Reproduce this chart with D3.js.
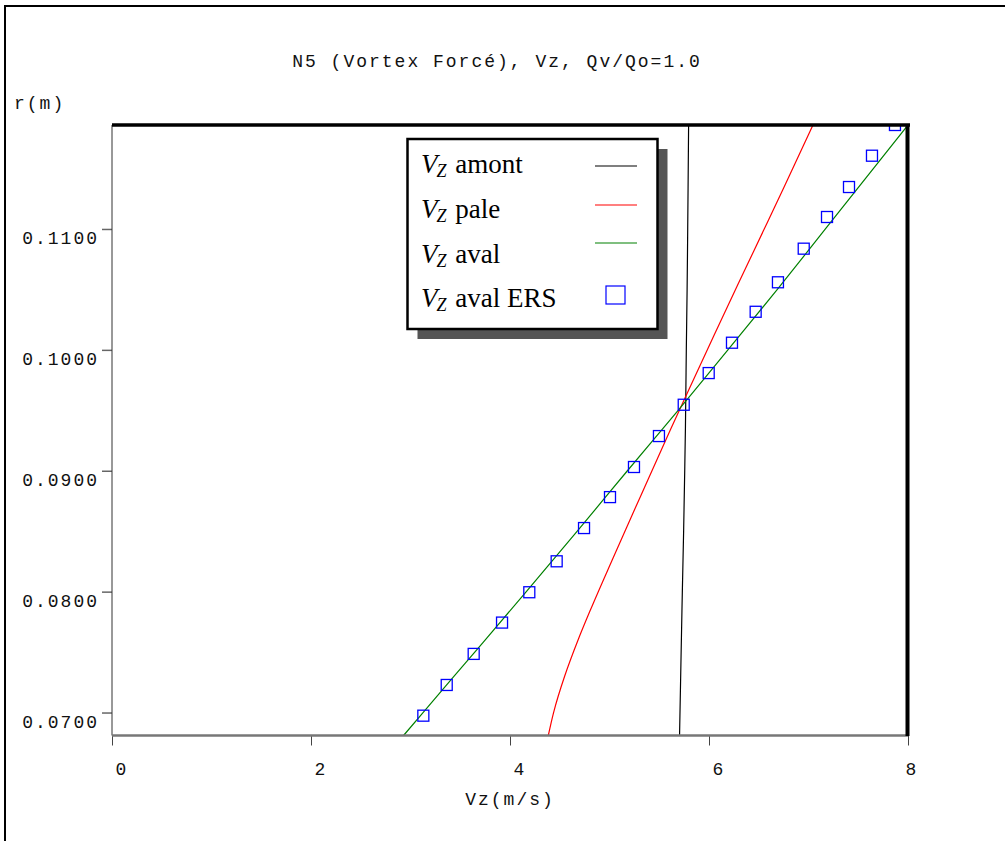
<!DOCTYPE html>
<html>
<head>
<meta charset="utf-8">
<script src="https://cdn.jsdelivr.net/npm/d3@7/dist/d3.min.js"></script>
<style>
  html, body { margin: 0; padding: 0; background: #fff; }
  svg { display: block; }
  .mono { font-family: "Liberation Mono", "DejaVu Sans Mono", monospace; font-size: 18px; letter-spacing: 2px; fill: #111; }
  .leg { font-family: "Liberation Serif", "Times New Roman", serif; font-size: 27px; fill: #000; }
</style>
</head>
<body>
<script>
// ---------- data ----------
const titleText = "N5 (Vortex Forcé), Vz, Qv/Qo=1.0";
const xLabel = "Vz(m/s)";
const yLabel = "r(m)";
const xTicks = [0, 2, 4, 6, 8];
const xTickLabels = ["0", "2", "4", "6", "8"];
const yTicks = [0.07, 0.08, 0.09, 0.10, 0.11];
const yTickLabels = ["0.0700", "0.0800", "0.0900", "0.1000", "0.1100"];

// Vz amont (black)
const amontR = [0.0681, 0.0750, 0.0800, 0.0850, 0.0900, 0.0935, 0.1000, 0.1050, 0.1100, 0.1186];
const amontV = [5.704, 5.720, 5.732, 5.745, 5.756, 5.763, 5.772, 5.780, 5.786, 5.795];
// Vz pale (red)
const paleR = [0.0681, 0.0700, 0.0730, 0.0760, 0.0785, 0.0826, 0.0880, 0.0934, 0.0972, 0.1011, 0.1055, 0.1105, 0.1135, 0.1186];
const paleV = [4.385, 4.438, 4.549, 4.684, 4.809, 5.026, 5.318, 5.612, 5.825, 6.045, 6.296, 6.584, 6.756, 7.045];
// Vz aval (green)
const avalR = [0.0681, 0.0700, 0.0750, 0.0800, 0.0850, 0.0900, 0.0950, 0.1000, 0.1050, 0.1100, 0.1186];
const avalV = [2.930, 3.126, 3.646, 4.164, 4.676, 5.180, 5.690, 6.190, 6.687, 7.170, 8.000];
// Vz aval ERS (blue squares)
const ersR = [0.06974, 0.07228, 0.07485, 0.07744, 0.07995, 0.08251, 0.08526, 0.08782, 0.09031, 0.09287,
              0.09546, 0.09808, 0.10059, 0.10315, 0.10559, 0.10837, 0.11099, 0.11347, 0.11606, 0.11860];
const ersV = [3.129, 3.364, 3.635, 3.920, 4.194, 4.469, 4.744, 5.005, 5.246, 5.497,
              5.746, 5.997, 6.231, 6.469, 6.693, 6.952, 7.186, 7.407, 7.638, 7.869];

const legendNames = ["amont", "pale", "aval", "aval ERS"];

// ---------- layout ----------
const W = 1005, H = 841;
const L = 112, R = 908, T = 125, B = 735.5;

const svg = d3.select("body").append("svg").attr("width", W).attr("height", H);

const x = d3.scaleLinear().domain([0, 8]).range([L, R]);
const y = d3.scaleLinear().domain([0.0681, 0.1186]).range([B, T]);

// outer frame
svg.append("path").attr("d", `M5,${H} L5,6 L${W},6`).attr("fill", "none").attr("stroke", "#000").attr("stroke-width", 2);

// title & axis labels
svg.append("text").attr("class", "mono").attr("x", 497).attr("y", 67).attr("text-anchor", "middle").text(titleText);
svg.append("text").attr("class", "mono").attr("x", 14).attr("y", 109).text(yLabel);
svg.append("text").attr("class", "mono").attr("x", 510).attr("y", 805).attr("text-anchor", "middle").text(xLabel);

// clip
svg.append("defs").append("clipPath").attr("id", "clip")
  .append("rect").attr("x", L).attr("y", T).attr("width", R - L).attr("height", B - T);

const plot = svg.append("g").attr("clip-path", "url(#clip)");

const line = d3.line().x(d => x(d[0])).y(d => y(d[1])).curve(d3.curveMonotoneY);
const series = [
  { v: amontV, r: amontR, color: "#000000" },
  { v: paleV, r: paleR, color: "#ff0000" },
  { v: avalV, r: avalR, color: "#008000" }
];
series.forEach(s => {
  plot.append("path")
    .datum(s.v.map((v, i) => [v, s.r[i]]))
    .attr("d", line)
    .attr("fill", "none")
    .attr("stroke", s.color)
    .attr("stroke-width", 1.2);
});

const sq = 11;
plot.selectAll("rect.ers").data(ersV.map((v, i) => [v, ersR[i]])).enter()
  .append("rect").attr("class", "ers")
  .attr("x", d => x(d[0]) - sq / 2).attr("y", d => y(d[1]) - sq / 2)
  .attr("width", sq).attr("height", sq)
  .attr("fill", "none").attr("stroke", "#0000ff").attr("stroke-width", 1.3);

// axes
const yAxis = d3.axisLeft(y).tickValues(yTicks).tickSize(10).tickFormat("");
const gy = svg.append("g").attr("transform", `translate(${L},0)`).call(yAxis);
gy.select(".domain").remove();
gy.selectAll(".tick line").attr("stroke", "#666").attr("stroke-width", 1.5);
svg.append("line").attr("x1", L).attr("x2", L).attr("y1", T).attr("y2", B).attr("stroke", "#333").attr("stroke-width", 1);
svg.selectAll("text.ytl").data(yTicks).enter().append("text")
  .attr("class", "mono ytl").attr("x", 99).attr("y", d => y(d) + 15)
  .attr("text-anchor", "end").text((d, i) => yTickLabels[i]);

const xAxis = d3.axisBottom(x).tickValues(xTicks).tickSize(10).tickFormat("");
const gx = svg.append("g").attr("transform", `translate(0,${B})`).call(xAxis);
gx.select(".domain").remove();
gx.selectAll(".tick line").attr("stroke", "#444").attr("stroke-width", 1);
svg.append("line").attr("x1", L).attr("x2", R).attr("y1", B).attr("y2", B).attr("stroke", "#777").attr("stroke-width", 2.5);
svg.selectAll("text.xtl").data(xTicks).enter().append("text")
  .attr("class", "mono xtl").attr("x", d => Math.min(x(d) + 10, R + 4)).attr("y", 775)
  .attr("text-anchor", "middle").text((d, i) => xTickLabels[i]);

// thick top and right borders
svg.append("line").attr("x1", L).attr("x2", R + 2).attr("y1", T).attr("y2", T).attr("stroke", "#000").attr("stroke-width", 3.5);
svg.append("line").attr("x1", R - 0.5).attr("x2", R - 0.5).attr("y1", T).attr("y2", B + 0.5).attr("stroke", "#000").attr("stroke-width", 4);

// legend
const lg = svg.append("g");
const bx = 407.5, by = 139, bw = 250, bh = 190;
lg.append("rect").attr("x", bx + 10).attr("y", by + 10).attr("width", bw).attr("height", bh).attr("fill", "#555");
lg.append("rect").attr("x", bx).attr("y", by).attr("width", bw).attr("height", bh)
  .attr("fill", "#fff").attr("stroke", "#000").attr("stroke-width", 2.5);

const textBase = [173, 217.5, 262.5, 306.5];
const sampleY = [166, 205, 243, 295];
legendNames.forEach((name, i) => {
  const t = lg.append("text").attr("class", "leg").attr("x", 421).attr("y", textBase[i]);
  t.append("tspan").attr("font-style", "italic").text("V");
  t.append("tspan").attr("font-style", "italic").attr("font-size", "18px").attr("dx", -1).attr("dy", 4).text("Z");
  t.append("tspan").attr("dy", -4).attr("dx", 2).text(" " + name);
});
series.forEach((s, i) => {
  lg.append("line").attr("x1", 595).attr("x2", 637).attr("y1", sampleY[i]).attr("y2", sampleY[i])
    .attr("stroke", s.color).attr("stroke-width", 1.2);
});
lg.append("rect").attr("x", 606).attr("y", sampleY[3] - 9).attr("width", 19).attr("height", 18)
  .attr("fill", "none").attr("stroke", "#0000ff").attr("stroke-width", 1.2);
</script>
</body>
</html>
